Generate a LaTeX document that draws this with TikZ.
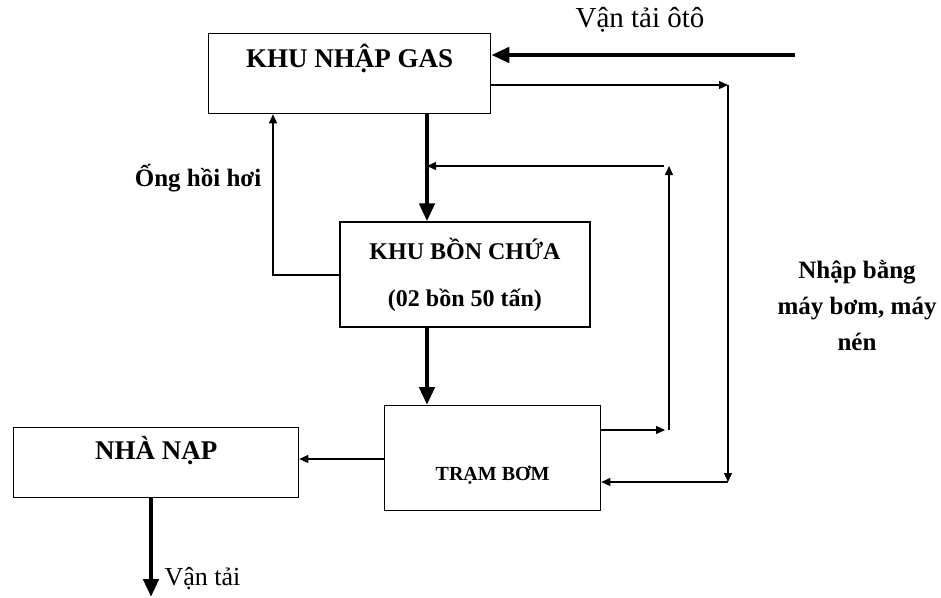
\documentclass[tikz,border=0pt]{standalone}
\usepackage{fontspec}
\setmainfont{Liberation Serif}
\usepackage{tikz}
\usetikzlibrary{arrows.meta, positioning, calc}

\begin{document}
\begin{tikzpicture}[x=1pt, y=-1pt,
	box/.style={draw, line width=1.3pt, inner sep=0pt, anchor=north west, font=\bfseries\fontsize{27}{30}\selectfont},
	thin/.style={line width=1.2pt, -{Triangle[length=9pt,width=8pt]}},
	fat/.style={line width=4.5pt, -{Triangle[length=18pt,width=15pt]}}]
			\useasboundingbox (0,0) rectangle (941,597);
			% boxes
			\node[box, minimum width=282pt, text height=34pt, text depth=46pt] (ng) at (208,33) {KHU NHẬP GAS};
			\node[box, minimum width=250pt, minimum height=105pt, align=center, anchor=center,
				font=\bfseries\fontsize{24}{47}\selectfont] (bc) at (465,274.5) {KHU BỒN CHỨA\\(02 bồn 50 tấn)};
			\node[box, minimum width=216pt, text height=75pt, text depth=30pt, font=\bfseries\fontsize{20}{24}\selectfont] (tb) at (384,405) {TRẠM BƠM};
			\node[box, minimum width=285pt, text height=32pt, text depth=38pt] (nn) at (13,427) {NHÀ NẠP};
			% texts
			\node[font=\fontsize{29}{32}\selectfont] (oto) at (640,20) {Vận tải ôtô};
			\node[font=\bfseries\fontsize{25}{30}\selectfont] (hh) at (198,178) {Ống hồi hơi};
			\node[align=center, font=\bfseries\fontsize{25}{36}\selectfont] (mb) at (857,306) {Nhập bằng\\máy bơm, máy\\nén};
			\node[anchor=west, font=\fontsize{26}{30}\selectfont] (vt) at (161,579) {Vận tải};
			% corner points
			\coordinate (a0) at (795,55);
			\coordinate (r1) at (728,85);
			\coordinate (r2) at (728,482);
			\coordinate (s1) at (427,166);
			\coordinate (r3) at (669,166);
			\coordinate (r4) at (669,430);
			\coordinate (h) at (273,275);
			\coordinate (t) at (0,459);
			\coordinate (e) at (151,597);
			% connectors
			\draw[fat] (a0) -- (a0 -| ng.east);
			\draw[fat] (ng.south -| s1) -- (bc.north -| s1);
			\draw[fat] (bc.south -| s1) -- (tb.north -| s1);
			\draw[fat] (nn.south -| e) -- (e);
			\draw[thin] (r1 -| ng.east) -- (r1);
			\draw[thin] (r1) -- (r2);
			\draw[thin] (r2) -- (r2 -| tb.east);
			\draw[thin] (r4 -| tb.east) -- ($(r4)+(-4,0)$);
			\draw[thin] (r4) -- (r3);
			\draw[thin] ($(r3)+(-5,0)$) -- (s1);
			\draw[thin] (h -| bc.west) -- (h) -- (h |- ng.south);
			\draw[thin] (t -| tb.west) -- (t -| nn.east);
		\end{tikzpicture}
\end{document}
